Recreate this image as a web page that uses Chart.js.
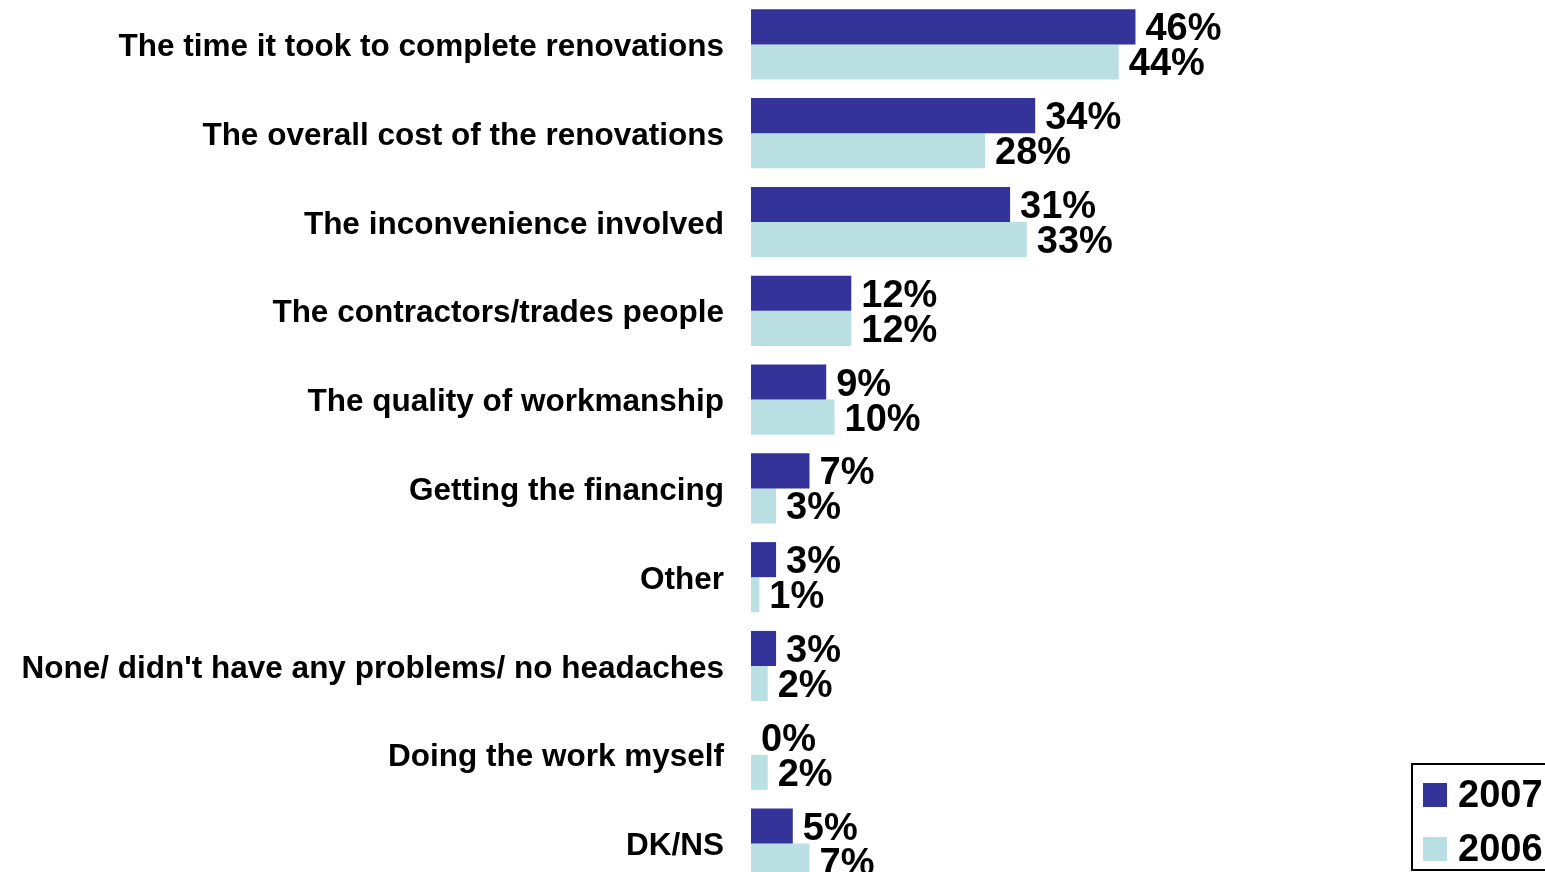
<!DOCTYPE html>
<html>
<head>
<meta charset="utf-8">
<script src="https://cdn.jsdelivr.net/npm/chart.js@4.4.0/dist/chart.umd.min.js"></script>
<style>
  html, body { margin: 0; padding: 0; background: #fff; overflow: hidden; }
  #wrap { position: relative; width: 1545px; height: 888px; }
</style>
</head>
<body>
<div id="wrap"><canvas id="chart"></canvas></div>
<script>
var categories = [
    'The time it took to complete renovations',
    'The overall cost of the renovations',
    'The inconvenience involved',
    'The contractors/trades people',
    'The quality of workmanship',
    'Getting the financing',
    'Other',
    "None/ didn't have any problems/ no headaches",
    'Doing the work myself',
    'DK/NS'
];
var values2007 = [46, 34, 31, 12, 9, 7, 3, 3, 0, 5];
var values2006 = [44, 28, 33, 12, 10, 3, 1, 2, 2, 7];
var seriesNames = ['2007', '2006'];

var FONT = "Arial, 'Liberation Sans', sans-serif";

// value labels at the end of each bar
var valueLabels = {
    id: 'valueLabels',
    afterDatasetsDraw: function(chart) {
        var ctx = chart.ctx;
        ctx.save();
        ctx.font = 'bold 38px ' + FONT;
        ctx.fillStyle = '#000';
        ctx.textAlign = 'left';
        ctx.textBaseline = 'middle';
        chart.data.datasets.forEach(function(ds, i) {
            chart.getDatasetMeta(i).data.forEach(function(bar, j) {
                ctx.fillText(ds.data[j] + '%', bar.x + 10, bar.y + 3);
            });
        });
        ctx.restore();
    }
};

// boxed legend bottom right
var boxLegend = {
    id: 'boxLegend',
    afterDraw: function(chart) {
        var ctx = chart.ctx;
        ctx.save();
        ctx.strokeStyle = '#000';
        ctx.lineWidth = 2;
        ctx.strokeRect(1412, 764, 140, 106);
        ctx.font = 'bold 38px ' + FONT;
        ctx.textBaseline = 'middle';
        ctx.textAlign = 'left';
        chart.data.datasets.forEach(function(ds, i) {
            var y = 795 + i * 54;
            ctx.fillStyle = ds.backgroundColor;
            ctx.fillRect(1423, y - 12, 24, 24);
            ctx.fillStyle = '#000';
            ctx.fillText(ds.label, 1458, y + 2);
        });
        ctx.restore();
    }
};

var ctx = document.getElementById('chart').getContext('2d');
var myChart = new Chart(ctx, {
    type: 'bar',
    data: {
        labels: categories,
        datasets: [{
            label: seriesNames[0],
            data: values2007,
            backgroundColor: '#333399',
            barPercentage: 1,
            categoryPercentage: 0.79
        }, {
            label: seriesNames[1],
            data: values2006,
            backgroundColor: '#BAE0E3',
            barPercentage: 1,
            categoryPercentage: 0.79
        }]
    },
    options: {
        indexAxis: 'y',
        responsive: true,
        maintainAspectRatio: false,
        animation: false,
        layout: { padding: 0 },
        plugins: {
            legend: { display: false },
            tooltip: { enabled: false }
        },
        scales: {
            x: {
                display: false,
                min: 0,
                max: 95
            },
            y: {
                grid: { display: false, drawTicks: false },
                border: { display: false },
                ticks: {
                    color: '#000',
                    font: { family: FONT, size: 31.5, weight: 'bold' },
                    padding: 27,
                    labelOffset: 3,
                    autoSkip: false
                },
                afterFit: function(scale) {
                    scale.width = 751;
                    scale.paddingTop = 0;
                    scale.paddingBottom = 0;
                }
            }
        }
    },
    plugins: [valueLabels, boxLegend]
});
</script>
</body>
</html>
